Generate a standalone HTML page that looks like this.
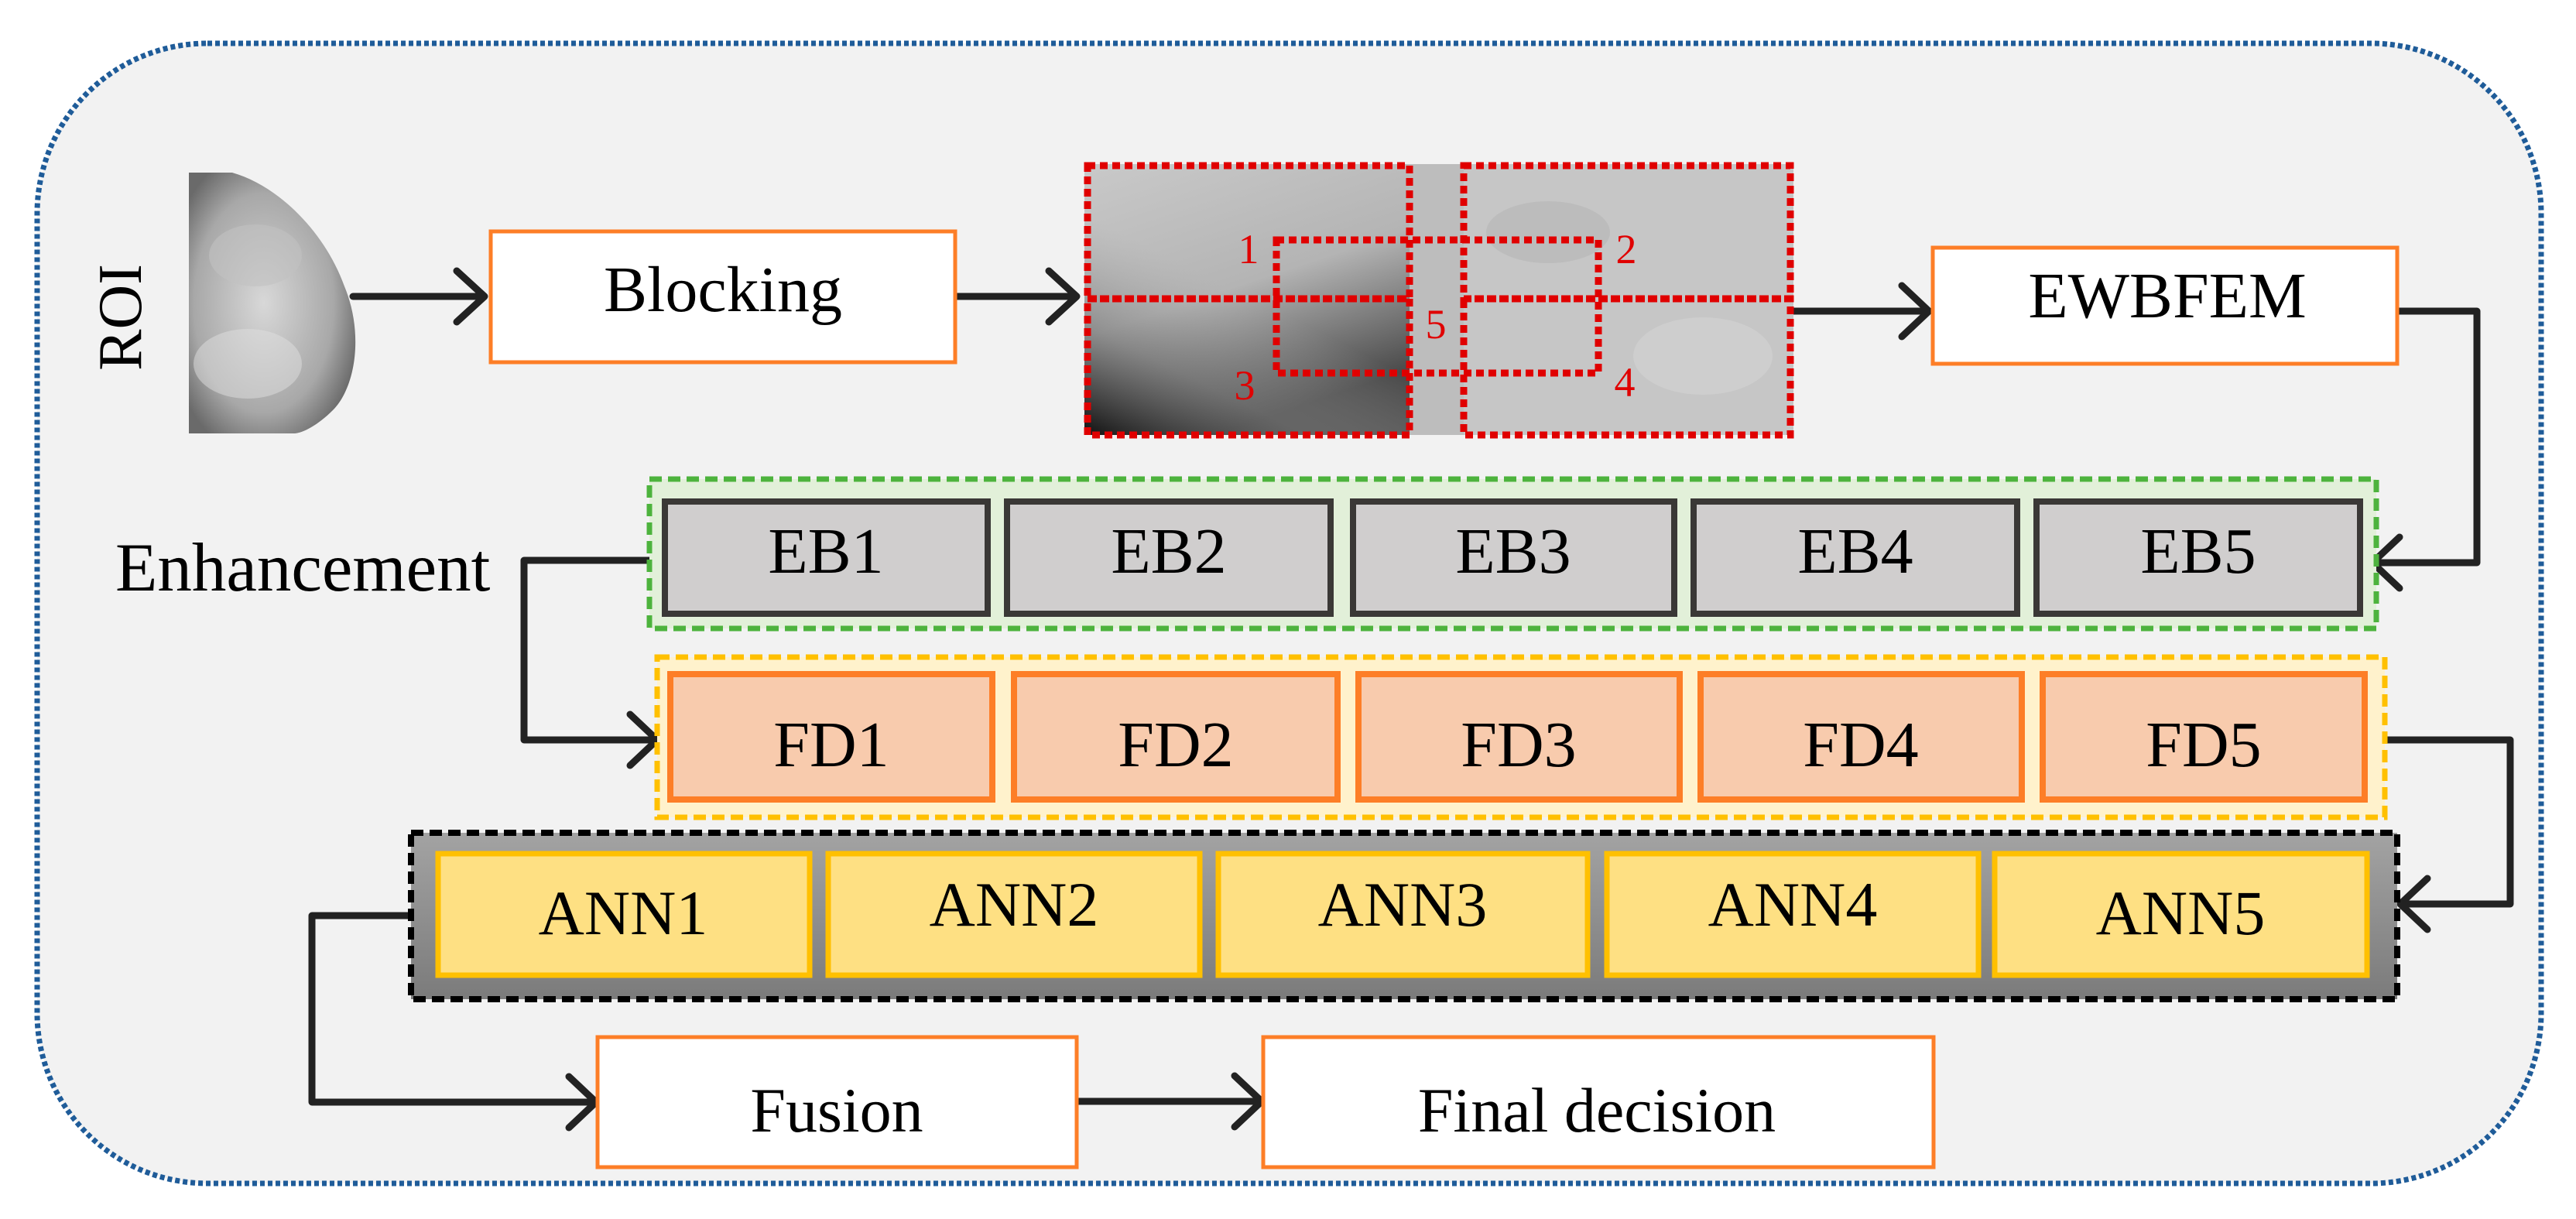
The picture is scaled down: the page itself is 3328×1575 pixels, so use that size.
<!DOCTYPE html>
<html><head><meta charset="utf-8"><style>
html,body{margin:0;padding:0;background:#fff}
svg{display:block}
text{font-family:"Liberation Serif",serif;fill:#000}
text.red{fill:#e00000}
</style></head><body>
<svg width="3328" height="1575" viewBox="0 0 3328 1575" xmlns="http://www.w3.org/2000/svg">
<defs>
<linearGradient id="annbg" x1="0" y1="0" x2="0" y2="1"><stop offset="0" stop-color="#a3a3a3"/><stop offset="1" stop-color="#7b7b7b"/></linearGradient>
<linearGradient id="imgL" x1="0" y1="0" x2="0.4" y2="1"><stop offset="0" stop-color="#c9c9c9"/><stop offset="0.55" stop-color="#b4b4b4"/><stop offset="1" stop-color="#4a4a4a"/></linearGradient>
<linearGradient id="imgL2" x1="0" y1="1" x2="0.6" y2="0"><stop offset="0" stop-color="#111"/><stop offset="0.3" stop-color="#777" stop-opacity="0.6"/><stop offset="0.6" stop-color="#aaa" stop-opacity="0"/></linearGradient>
<radialGradient id="breast" cx="0.45" cy="0.5" r="0.6"><stop offset="0" stop-color="#d8d8d8"/><stop offset="0.7" stop-color="#a8a8a8"/><stop offset="1" stop-color="#6a6a6a"/></radialGradient>
</defs>
<rect x="0" y="0" width="3328" height="1575" fill="#fff"/>
<rect x="48" y="56" width="3235" height="1473" rx="220" ry="220" fill="#f2f2f2" stroke="#1f5c99" stroke-width="7" stroke-dasharray="6 4"/>

<text x="0" y="0" font-size="80" text-anchor="middle" transform="translate(182,410) rotate(-90)">ROI</text>
<path d="M244,223 L300,223 C360,240 420,300 445,370 C470,430 460,500 430,530 C410,550 390,560 380,560 L244,560 Z" fill="url(#breast)"/>
<ellipse cx="330" cy="330" rx="60" ry="40" fill="#c2c2c2" opacity="0.6"/>
<ellipse cx="320" cy="470" rx="70" ry="45" fill="#e0e0e0" opacity="0.5"/>

<g stroke="#222" stroke-width="9" fill="none" stroke-linecap="round" stroke-linejoin="round">
<line x1="456" y1="383" x2="622" y2="383"/><polyline points="590,350 626,383 590,416"/>
<line x1="1234" y1="383" x2="1386" y2="383"/><polyline points="1355,350 1391,383 1355,416"/>
<line x1="2317" y1="402" x2="2488" y2="402"/><polyline points="2457,369 2492,402 2457,435"/>
<polyline points="3097,402 3200,402 3200,727 3068,727"/><polyline points="3100,694 3065,727 3100,760"/>
<polyline points="839,724 677,724 677,956 845,956"/><polyline points="814,923 849,956 814,989"/>
<polyline points="3081,956 3243,956 3243,1168 3104,1168"/><polyline points="3136,1135 3101,1168 3136,1201"/>
<polyline points="531,1183 403,1183 403,1424 766,1424"/><polyline points="735,1391 770,1424 735,1457"/>
<line x1="1391" y1="1423" x2="1626" y2="1423"/><polyline points="1595,1390 1630,1423 1595,1456"/>
</g>

<rect x="634" y="299" width="600" height="169" fill="#fff" stroke="#fd7e27" stroke-width="5"/>
<text x="934" y="402" font-size="84" text-anchor="middle">Blocking</text>

<rect x="1401" y="212" width="420" height="350" fill="url(#imgL)"/>
<rect x="1401" y="212" width="420" height="350" fill="url(#imgL2)"/>
<rect x="1821" y="212" width="70" height="350" fill="#bdbdbd"/>
<rect x="1891" y="212" width="426" height="350" fill="#c6c6c6"/>
<ellipse cx="2000" cy="300" rx="80" ry="40" fill="#b8b8b8" opacity="0.7"/>
<ellipse cx="2200" cy="460" rx="90" ry="50" fill="#d2d2d2" opacity="0.7"/>
<g fill="none" stroke="#e00000" stroke-width="9" stroke-dasharray="10 6">
<rect x="1405" y="214" width="416" height="172"/>
<rect x="1405" y="386" width="416" height="176"/>
<rect x="1891" y="214" width="422" height="172"/>
<rect x="1891" y="386" width="422" height="176"/>
<rect x="1649" y="310" width="416" height="172"/>
</g>
<g font-size="54" text-anchor="middle">
<text class="red" x="1613" y="340">1</text>
<text class="red" x="2101" y="340">2</text>
<text class="red" x="1608" y="516">3</text>
<text class="red" x="2099" y="512">4</text>
<text class="red" x="1855" y="437">5</text>
</g>

<rect x="2497" y="320" width="600" height="150" fill="#fff" stroke="#fd7e27" stroke-width="5"/>
<text x="2800" y="410" font-size="84" text-anchor="middle">EWBFEM</text>

<text x="149" y="763" font-size="89">Enhancement</text>

<rect x="839" y="619" width="2231" height="193" fill="#e2f0d9" stroke="#4db33d" stroke-width="7" stroke-dasharray="16 8"/>
<g fill="#d0cece" stroke="#3a3836" stroke-width="8">
<rect x="859" y="648" width="417" height="145"/>
<rect x="1301" y="648" width="418" height="145"/>
<rect x="1748" y="648" width="415" height="145"/>
<rect x="2188" y="648" width="418" height="145"/>
<rect x="2631" y="648" width="418" height="145"/>
</g>
<g font-size="84" text-anchor="middle">
<text x="1067" y="740">EB1</text>
<text x="1510" y="740">EB2</text>
<text x="1955" y="740">EB3</text>
<text x="2397" y="740">EB4</text>
<text x="2840" y="740">EB5</text>
</g>

<rect x="849" y="849" width="2232" height="207" fill="#fff2cc" stroke="#ffc000" stroke-width="7" stroke-dasharray="16 8"/>
<g fill="#f8cbad" stroke="#fd7e27" stroke-width="8">
<rect x="866" y="871" width="416" height="162"/>
<rect x="1310" y="871" width="418" height="162"/>
<rect x="1755" y="871" width="415" height="162"/>
<rect x="2197" y="871" width="415" height="162"/>
<rect x="2639" y="871" width="416" height="162"/>
</g>
<g font-size="84" text-anchor="middle">
<text x="1074" y="990">FD1</text>
<text x="1519" y="990">FD2</text>
<text x="1962" y="990">FD3</text>
<text x="2404" y="990">FD4</text>
<text x="2847" y="990">FD5</text>
</g>

<rect x="531" y="1076" width="2566" height="215" fill="url(#annbg)" stroke="#000" stroke-width="8" stroke-dasharray="16 8"/>
<g fill="#fee083" stroke="#ffc000" stroke-width="7">
<rect x="566" y="1103" width="480" height="157"/>
<rect x="1070" y="1103" width="480" height="157"/>
<rect x="1574" y="1103" width="477" height="157"/>
<rect x="2076" y="1103" width="480" height="157"/>
<rect x="2577" y="1103" width="481" height="157"/>
</g>
<g font-size="82" text-anchor="middle">
<text x="805" y="1207">ANN1</text>
<text x="1310" y="1196">ANN2</text>
<text x="1812" y="1196">ANN3</text>
<text x="2316" y="1196">ANN4</text>
<text x="2817" y="1207">ANN5</text>
</g>

<rect x="772" y="1340" width="619" height="168" fill="#fff" stroke="#fd7e27" stroke-width="5"/>
<text x="1081" y="1462" font-size="82" text-anchor="middle">Fusion</text>
<rect x="1632" y="1340" width="866" height="168" fill="#fff" stroke="#fd7e27" stroke-width="5"/>
<text x="2063" y="1462" font-size="82" text-anchor="middle">Final decision</text>
</svg>
</body></html>
